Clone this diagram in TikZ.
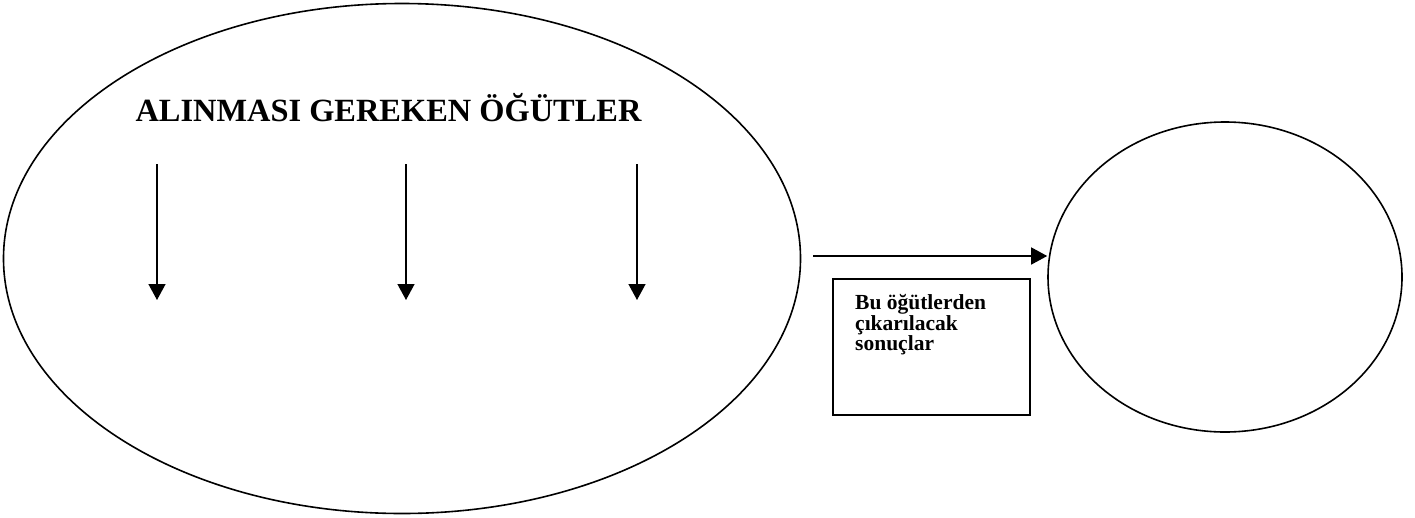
\documentclass[tikz,border=0pt]{standalone}
\usepackage{fontspec}
\setmainfont{Liberation Serif}
\usetikzlibrary{arrows.meta,shapes.geometric}
\begin{document}
\begin{tikzpicture}[x=1pt,y=-1pt,
  outline/.style={draw, line width=1.6pt, inner sep=0pt},
  oval/.style={outline, ellipse},
  arr/.style={line width=1.4pt, -{Triangle[width=17pt,length=16pt]}},
  title/.style={font=\bfseries\fontsize{32.4}{34}\selectfont, inner sep=0pt},
  boxtext/.style={font=\bfseries\fontsize{21.5}{19.5}\selectfont, align=left, inner sep=0pt}]
\useasboundingbox (0,0) rectangle (1415,517);
\node[oval, minimum width=797pt, minimum height=510pt] (big) at (402,258.5) {};
\node[oval, minimum width=354pt, minimum height=310pt] (circ) at (1225,277) {};
\node[outline, line width=1.4pt, minimum width=197pt, minimum height=136pt] (box) at (931.5,347) {};
\node[title, anchor=base] (ttl) at (388.5,121) {ALINMASI GEREKEN ÖĞÜTLER};
\node[boxtext, anchor=base west] (lbl) at (855,350) {Bu öğütlerden\\çıkarılacak\\sonuçlar};
\coordinate (s1) at (157,164); \coordinate (e1) at (157,300);
\coordinate (s2) at (406,164); \coordinate (e2) at (406,300);
\coordinate (s3) at (637,164); \coordinate (e3) at (637,300);
\coordinate (hs) at (813,256);
\draw[arr] (s1) -- (e1);
\draw[arr] (s2) -- (e2);
\draw[arr] (s3) -- (e3);
\draw[arr] (hs) -- (hs -| circ.west);
\end{tikzpicture}
\end{document}
